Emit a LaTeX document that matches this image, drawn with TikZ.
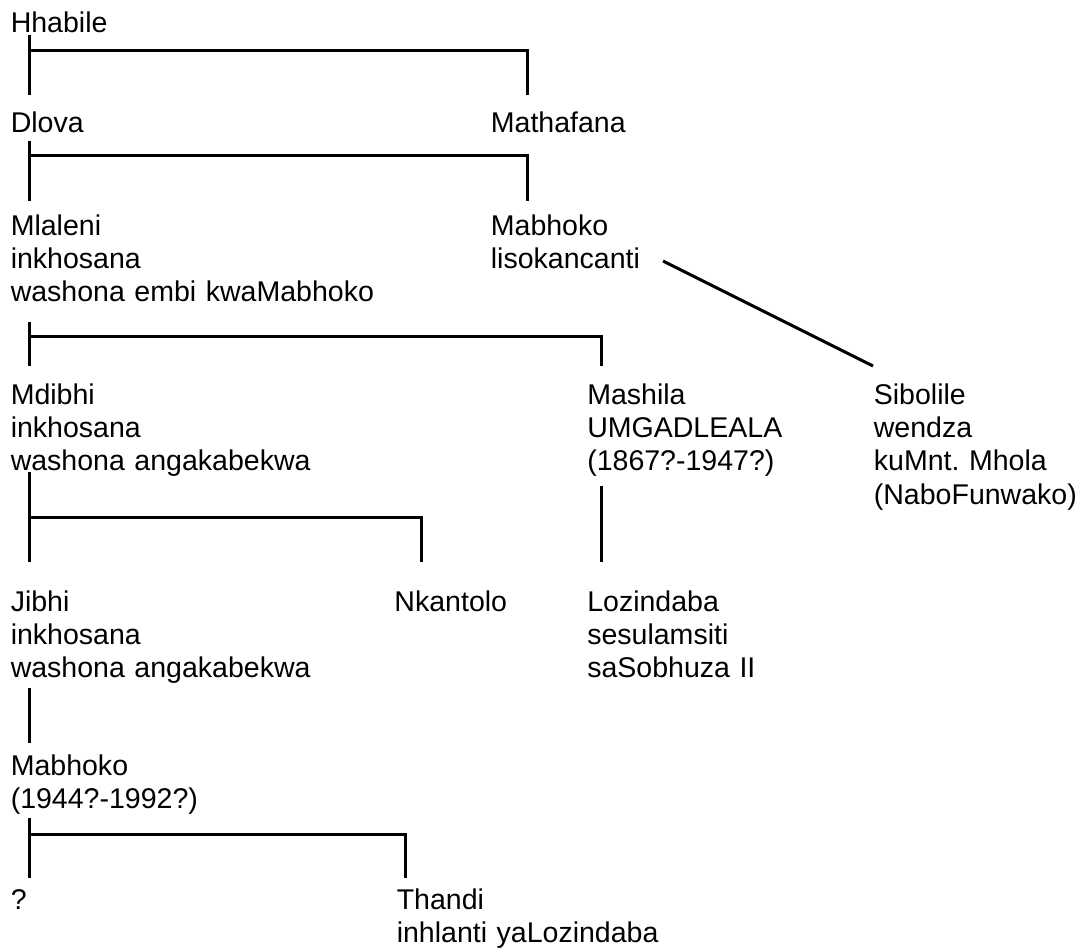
\documentclass[tikz,border=0pt]{standalone}
\usepackage{fontspec}
\setmainfont{Liberation Sans}
\frenchspacing

\begin{document}
\begin{tikzpicture}[x=0.75pt,y=0.75pt,yscale=-1,xscale=1,
  person/.style={anchor=base west,inner sep=0pt,text width=300pt,align=left,font=\fontsize{21.4}{25}\selectfont},
  tie/.style={line width=2.25pt}]
\useasboundingbox (0,0) rectangle (1087,947);

% Text Node
\node [person] (hhabile) at (10.5,32.3) {Hhabile};
% Text Node
\node [person] (dlova) at (10.5,132.7) {Dlova};
% Text Node
\node [person] (mathafana) at (490.6,132) {Mathafana};
% Text Node
\node [person] (mlaleni) at (10.5,235) {Mlaleni\\inkhosana\\washona embi kwaMabhoko};
% Text Node
\node [person] (mabhoko) at (490.6,235) {Mabhoko\\lisokancanti};
% Text Node
\node [person] (mdibhi) at (10.5,404) {Mdibhi\\inkhosana\\washona angakabekwa};
% Text Node
\node [person] (mashila) at (587,404) {Mashila\\UMGADLEALA\\(1867?-1947?)};
% Text Node
\node [person] (sibolile) at (873.6,404) {Sibolile\\wendza\\kuMnt.\ Mhola\\(NaboFunwako)};
% Text Node
\node [person] (jibhi) at (10.5,611) {Jibhi\\inkhosana\\washona angakabekwa};
% Text Node
\node [person] (nkantolo) at (394.2,611) {Nkantolo};
% Text Node
\node [person] (lozindaba) at (587,611) {Lozindaba\\sesulamsiti\\saSobhuza II};
% Text Node
\node [person] (mabhokoii) at (10.5,775) {Mabhoko\\(1944?-1992?)};
% Text Node
\node [person] (unknown) at (10.5,909) {?};
% Text Node
\node [person] (thandi) at (396.5,909) {Thandi\\inhlanti yaLozindaba};

%Straight Lines: Hhabile -> Dlova, Mathafana
\coordinate (hhabile-s) at (29.3,35);
\coordinate (hhabile-b) at (29.3,50.5);
\coordinate (dlova-n) at (29.3,95);
\coordinate (mathafana-n) at (527.3,95);
\draw [tie] (hhabile-s) -- (dlova-n);
\draw [tie] (hhabile-b) -| (mathafana-n);
%Straight Lines: Dlova -> Mlaleni, Mabhoko
\coordinate (dlova-s) at (29.3,140.7);
\coordinate (dlova-b) at (29.3,155.5);
\coordinate (mlaleni-n) at (29.3,200.7);
\coordinate (mabhoko-n) at (527.3,200.7);
\draw [tie] (dlova-s) -- (mlaleni-n);
\draw [tie] (dlova-b) -| (mabhoko-n);
%Straight Lines: Mabhoko -> Sibolile
\coordinate (mabhoko-e) at (663,261);
\coordinate (sibolile-n) at (873,366);
\draw [tie] (mabhoko-e) -- (sibolile-n);
%Straight Lines: Mlaleni -> Mdibhi, Mashila
\coordinate (mlaleni-s) at (29.3,321.7);
\coordinate (mlaleni-b) at (29.3,336.7);
\coordinate (mdibhi-n) at (29.3,366);
\coordinate (mashila-n) at (601.7,366);
\draw [tie] (mlaleni-s) -- (mdibhi-n);
\draw [tie] (mlaleni-b) -| (mashila-n);
%Straight Lines: Mdibhi -> Jibhi, Nkantolo
\coordinate (mdibhi-s) at (29.3,471.7);
\coordinate (mdibhi-b) at (29.3,517.3);
\coordinate (jibhi-n) at (29.3,561.7);
\coordinate (nkantolo-n) at (421,561.7);
\draw [tie] (mdibhi-s) -- (jibhi-n);
\draw [tie] (mdibhi-b) -| (nkantolo-n);
%Straight Lines: Mashila -> Lozindaba
\coordinate (mashila-s) at (601.7,486);
\coordinate (lozindaba-n) at (601.7,561.7);
\draw [tie] (mashila-s) -- (lozindaba-n);
%Straight Lines: Jibhi -> Mabhoko
\coordinate (jibhi-s) at (29.3,688);
\coordinate (mabhokoii-n) at (29.3,742.7);
\draw [tie] (jibhi-s) -- (mabhokoii-n);
%Straight Lines: Mabhoko -> ?, Thandi
\coordinate (mabhokoii-s) at (29.3,818.3);
\coordinate (mabhokoii-b) at (29.3,834);
\coordinate (unknown-n) at (29.3,878.3);
\coordinate (thandi-n) at (405.4,878.3);
\draw [tie] (mabhokoii-s) -- (unknown-n);
\draw [tie] (mabhokoii-b) -| (thandi-n);

\end{tikzpicture}
\end{document}
